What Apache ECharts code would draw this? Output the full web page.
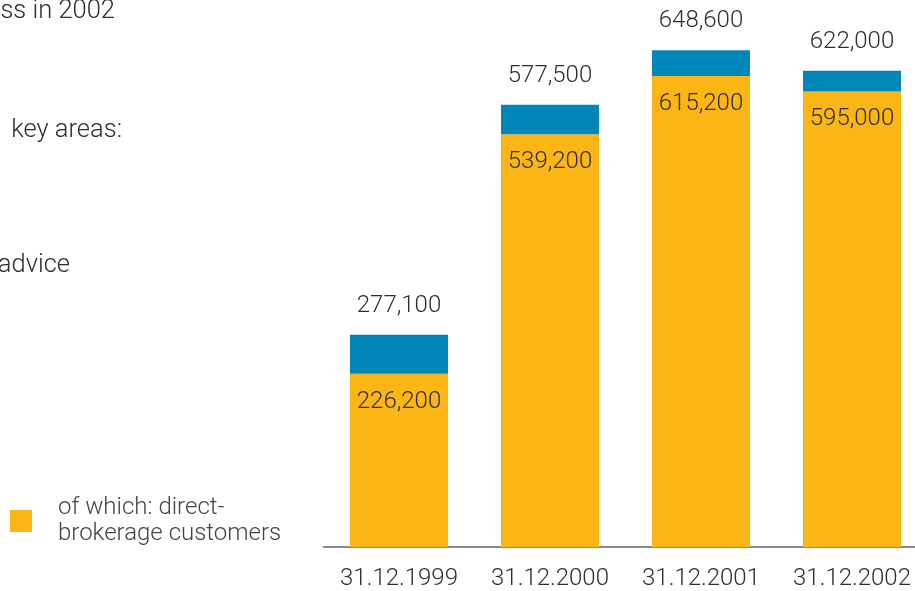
<!DOCTYPE html>
<html>
<head>
<meta charset="utf-8">
<script src="https://cdn.jsdelivr.net/npm/echarts@6/dist/echarts.min.js"></script>
<style>
  html, body { margin: 0; padding: 0; background: #fff; }
  #chart { width: 915px; height: 591px; }
</style>
</head>
<body>
<div id="chart"></div>
<script>
// Customer numbers at year end
const dates = ['31.12.1999', '31.12.2000', '31.12.2001', '31.12.2002'];
const totalCustomers = [277100, 577500, 648600, 622000];
const directBrokerage = [226200, 539200, 615200, 595000];

const otherCustomers = totalCustomers.map((t, i) => t - directBrokerage[i]);
const fmt = v => v.toLocaleString('en-US');

const FONT = 'Roboto, "Liberation Sans", sans-serif';
const TEXT = '#2e2e2e';
const FS = 24;

const chart = echarts.init(document.getElementById('chart'), null, { renderer: 'canvas' });
chart.setOption({
  animation: false,
  textStyle: { fontFamily: FONT, fontWeight: 300 },
  grid: { left: 323.5, width: 604, top: 11, bottom: 44, containLabel: false, outerBoundsMode: 'none' },
  legend: {
    data: ['direct'],
    left: 5, top: 490,
    icon: 'rect', itemWidth: 22, itemHeight: 22, itemGap: 0,
    formatter: () => 'of which: direct-\nbrokerage customers',
    textStyle: { fontFamily: FONT, fontWeight: 300, fontSize: FS, color: '#444', lineHeight: 26, padding: [0, 0, 0, 21] },
    selectedMode: false
  },
  xAxis: {
    type: 'category',
    data: dates,
    axisLine: { lineStyle: { color: '#666', width: 1.5 } },
    axisTick: { show: false },
    axisLabel: { interval: 0, hideOverlap: false, fontSize: FS, fontWeight: 300, color: TEXT, margin: 20, fontFamily: FONT }
  },
  yAxis: {
    type: 'value', min: 0, max: 700000,
    show: false,
    splitLine: { show: false }
  },
  series: [
    {
      name: 'direct', type: 'bar', stack: 'c', barWidth: 98,
      data: directBrokerage,
      itemStyle: { color: '#FBB616' },
      label: {
        show: true, position: 'insideTop', distance: 16,
        formatter: p => fmt(p.value),
        fontSize: FS, fontWeight: 300, color: TEXT, fontFamily: FONT
      }
    },
    {
      name: 'other', type: 'bar', stack: 'c', barWidth: 98,
      data: otherCustomers,
      itemStyle: { color: '#0087B7' },
      label: {
        show: true, position: 'top', distance: 17,
        formatter: p => fmt(totalCustomers[p.dataIndex]),
        fontSize: FS, fontWeight: 300, color: TEXT, fontFamily: FONT
      }
    }
  ],
  graphic: [
    { type: 'text', x: 115, y: 11.5, style: { text: 'ss in 2002', align: 'right', verticalAlign: 'middle', fontSize: 25.5, fontWeight: 300, fill: TEXT, fontFamily: FONT } },
    { type: 'text', x: 122, y: 131, style: { text: 'key areas:', align: 'right', verticalAlign: 'middle', fontSize: 25.5, fontWeight: 300, fill: TEXT, fontFamily: FONT } },
    { type: 'text', x: 70, y: 266, style: { text: 'advice', align: 'right', verticalAlign: 'middle', fontSize: 25.5, fontWeight: 300, fill: TEXT, fontFamily: FONT } }
  ]
});
</script>
</body>
</html>
